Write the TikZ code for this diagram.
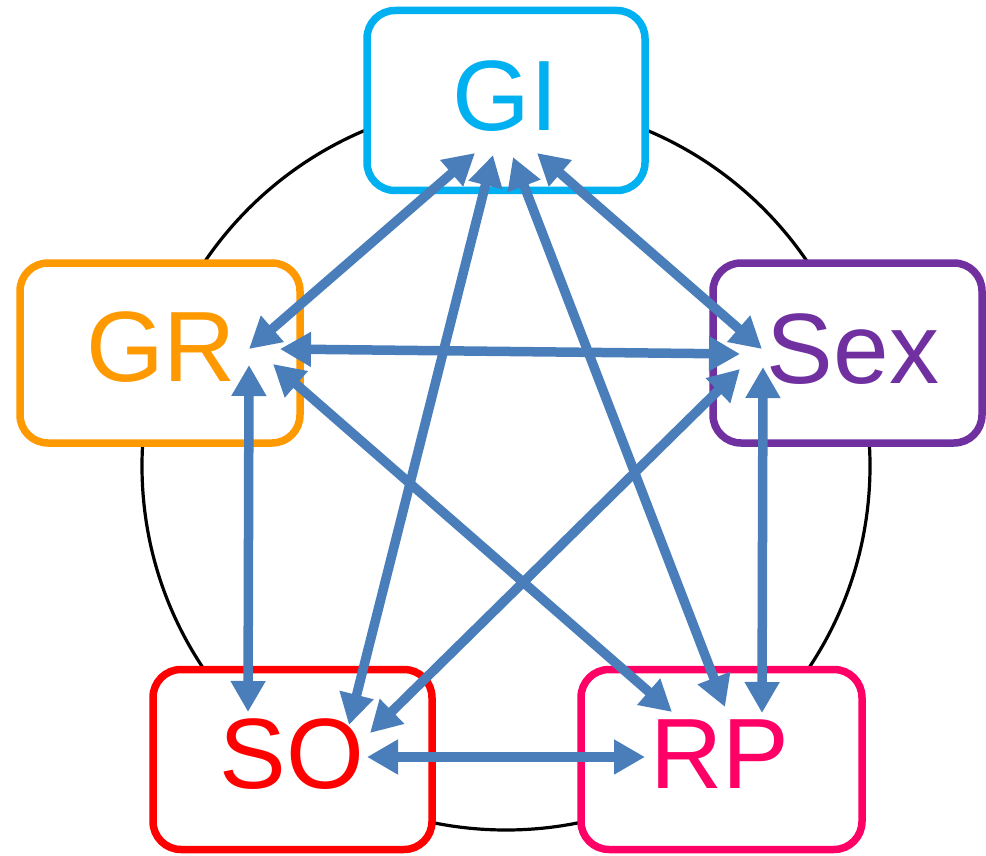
\documentclass[tikz,border=0pt]{standalone}
\usepackage{fontspec}
\setmainfont{Liberation Sans}
\usetikzlibrary{arrows.meta,shadows}
\definecolor{cGI}{HTML}{00B0F0}
\definecolor{cGR}{HTML}{FF9900}
\definecolor{cSex}{HTML}{7030A0}
\definecolor{cSO}{HTML}{FF0000}
\definecolor{cRP}{HTML}{FF0066}
\definecolor{linkc}{HTML}{4A7EBB}
\tikzset{
  boxnode/.style={draw=#1, line width=7.5pt, rounded corners=28pt, fill=white,
    minimum height=180pt, inner sep=0pt,
    drop shadow={shadow xshift=2pt, shadow yshift=-3pt, opacity=0.25, fill=black!60}},
  lbl/.style={text=#1, inner sep=0pt, font=\fontsize{100}{110}\selectfont},
  link/.style={draw=linkc, line width=9.5pt,
    {Triangle[length=31pt,width=33pt]}-{Triangle[length=31pt,width=33pt]}}
}
\begin{document}
\begin{tikzpicture}[x=1pt,y=-1pt]
\useasboundingbox (0,0) rectangle (986,856);
\node[draw=black, line width=3.2pt, circle, minimum size=728pt, inner sep=0pt] (ring) at (506,466) {};
% boxes
\node[boxnode=cGI, minimum width=278pt] (GI) at (506,100.5) {};
\node[boxnode=cGR, minimum width=280pt] (GR) at (160,353) {};
\node[boxnode=cSex, minimum width=269pt] (Sex) at (847.5,353) {};
\node[boxnode=cSO, minimum width=279pt] (SO) at (292.5,759.5) {};
\node[boxnode=cRP, minimum width=281pt] (RP) at (721.5,759.5) {};
% labels
\node[lbl=cGI] (GIt) at (505,96) {GI};
\node[lbl=cGR] (GRt) at (161,347) {GR};
\node[lbl=cSex] (Sext) at (853,349) {Sex};
\node[lbl=cSO] (SOt) at (292,754) {SO};
\node[lbl=cRP] (RPt) at (720,754) {RP};
% connector ends
\coordinate (GIgr) at (475,153);  \coordinate (GRgi) at (249,349);
\coordinate (GIso) at (493,155);  \coordinate (SOgi) at (349,725);
\coordinate (GIrp) at (513,157);  \coordinate (RPgi) at (725,707);
\coordinate (GIsx) at (537,153);  \coordinate (SXgi) at (762,349);
\coordinate (GRsx) at (280,349);  \coordinate (SXgr) at (740,354);
\coordinate (GRso) at (249,365);  \coordinate (SOgr) at (248,712);
\coordinate (GRrp) at (273,364);  \coordinate (RPgr) at (672,712);
\coordinate (SXso) at (740,369);  \coordinate (SOsx) at (370,733);
\coordinate (SXrp) at (763,367);  \coordinate (RPsx) at (762,713);
\coordinate (SOrp) at (367,757);  \coordinate (RPso) at (645,757);
% connectors
\draw[link] (GIgr) -- (GRgi);
\draw[link] (GIso) -- (SOgi);
\draw[link] (GIrp) -- (RPgi);
\draw[link] (GIsx) -- (SXgi);
\draw[link] (GRsx) -- (SXgr);
\draw[link] (GRso) -- (SOgr);
\draw[link] (GRrp) -- (RPgr);
\draw[link] (SXso) -- (SOsx);
\draw[link] (SXrp) -- (RPsx);
\draw[link] (SOrp) -- (RPso);
\end{tikzpicture}
\end{document}
